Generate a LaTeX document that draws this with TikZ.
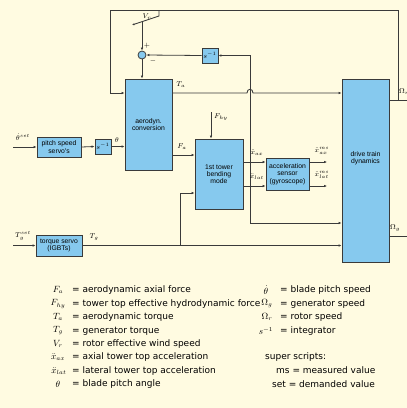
\documentclass[tikz,border=0pt]{standalone}
\usepackage{fontspec}
\setmainfont{DejaVu Sans}
\newfontfamily\boxfont{Liberation Sans}
\usetikzlibrary{arrows.meta}
\definecolor{bg}{HTML}{FFFBE1}
\definecolor{boxblue}{HTML}{86C9EE}
\definecolor{ln}{HTML}{3A3A3A}
\begin{document}
\begin{tikzpicture}[x=1pt,y=-1pt,
  blk/.style={draw=ln, line width=0.9pt, fill=boxblue, inner sep=0pt, align=center,
    font=\boxfont\fontsize{6.8}{7.3}\selectfont},
  sig/.style={draw=ln, line width=0.8pt, -{Latex[length=3pt,width=2.6pt]}},
  wire/.style={draw=ln, line width=0.8pt},
  lbl/.style={font=\fontsize{7.5}{8}\selectfont, inner sep=0pt},
  sym/.style={font=\fontsize{9}{10}\selectfont, inner sep=0pt},
  leg/.style={anchor=west, font=\fontsize{9}{10}\selectfont, inner sep=0pt}]
\fill[bg] (0,0) rectangle (407,408);
\useasboundingbox (0,0) rectangle (407,408);

% blocks
\node[blk, minimum width=47pt, minimum height=91pt] (aero) at (148.5,124.5) {aerodyn.\\conversion};
\node[blk, minimum width=48pt, minimum height=70pt] (tower) at (219,174) {1st tower\\bending\\mode};
\node[blk, minimum width=43pt, minimum height=32pt] (acc) at (287.5,174) {acceleration\\sensor\\(gyroscope)};
\node[blk, minimum width=47pt, minimum height=183pt] (drive) at (365.5,170.5) {};
\node[align=center, font=\boxfont\fontsize{6.8}{7.3}\selectfont, inner sep=0pt] (dtxt) at (365.5,158) {drive train\\dynamics};
\node[blk, minimum width=44pt, minimum height=20pt] (pitch) at (59,147) {pitch speed\\servo's};
\node[blk, minimum width=16pt, minimum height=15pt] (int1) at (103,146.5) {$s^{-1}$};
\node[blk, minimum width=16pt, minimum height=15pt] (int2) at (210,55.5) {$s^{-1}$};
\node[blk, minimum width=46pt, minimum height=21pt] (torque) at (59,245.5) {torque servo\\(IGBTs)};
\node[circle, draw=ln, line width=0.8pt, fill=boxblue, minimum size=8pt, inner sep=0pt] (sum) at (142,55) {};

% helper coordinates
\coordinate (thin) at (13,147);
\coordinate (tgin) at (13,245.5);
\coordinate (fhy) at (211,112);
\coordinate (j) at (250,162);
\coordinate (latc) at (250,186);
\coordinate (jb) at (250,223);
\coordinate (tgb) at (180,245.5);
\coordinate (tgc) at (180,193);
\coordinate (tay) at (0,93);
\coordinate (fay) at (0,155);
\coordinate (axo) at (327,162);
\coordinate (lato) at (327,186);
\coordinate (oR) at (407,100);
\coordinate (oG) at (407,236);
\coordinate (fbR) at (398,100);
\coordinate (tr) at (398,10);
\coordinate (tl) at (110,10);
\coordinate (w1) at (159,10);
\coordinate (w2) at (159,16);
\coordinate (w3) at (132,25);
\coordinate (wv) at (142,22);
\coordinate (h1) at (247,93);
\coordinate (h2) at (253,93);

% signals
\draw[sig] (thin) -- (pitch.west);
\draw[sig] (pitch.east) -- (int1.west);
\draw[sig] (int1.east) -- (aero.west |- int1.east);
\draw[sig] (tgin) -- (torque.west);
\draw[sig] (torque.east) -- (drive.west |- torque.east);
\draw[sig] (tgb) |- (tower.west |- tgc);
\draw[sig] (aero.east |- tay) -- (h1) .. controls (247,88) and (253,88) .. (h2) -- (drive.west |- tay);
\draw[sig] (aero.east |- fay) -- (tower.west |- fay);
\draw[sig] (fhy) -- (fhy |- tower.north);
\draw[sig] (tower.east |- j) -- (acc.west |- j);
\draw[sig] (tower.east |- latc) -- (acc.west |- latc);
\draw[sig] (acc.east |- j) -- (axo);
\draw[sig] (acc.east |- latc) -- (lato);
\draw[sig] (j) |- (int2.east);
\draw[sig] (j) -- (jb) -- (drive.west |- jb);
\draw[sig] (int2.west) -- (sum.east);
\draw[sig] (sum.south) -- (sum.south |- aero.north);
\draw[wire] (drive.east |- oR) -- (oR);
\draw[wire] (drive.east |- oG) -- (oG);
\draw[sig] (fbR) -- (tr) -- (tl) -- (tl |- tay) -- (aero.west |- tay);
\draw[wire, {Latex[length=2.5pt,width=2.2pt]}-] (w3) -- (w2) -- (w1);
\draw[sig] (wv) -- (sum.north);

% labels
\node[lbl] (lthset) at (23,137) {$\dot\theta^{set}$};
\node[lbl] (lth) at (117,140) {$\theta$};
\node[lbl] (lta) at (181,85) {$T_a$};
\node[lbl] (lfa) at (182,147) {$F_a$};
\node[lbl] (lfhy) at (221,117) {$F_{hy}$};
\node[lbl] (lvr) at (147,17) {$V_r$};
\node[lbl] (lplus) at (147,46) {$+$};
\node[lbl] (lminus) at (153,61) {$-$};
\node[lbl] (lxa) at (257,153) {$\ddot x_{ax}$};
\node[lbl] (lxl) at (257,177) {$\ddot x_{lat}$};
\node[lbl] (lxam) at (322,151) {$\ddot x_{ax}^{ms}$};
\node[lbl] (lxlm) at (322,175) {$\ddot x_{lat}^{ms}$};
\node[lbl] (ltgset) at (23,236) {$T_g^{set}$};
\node[lbl] (ltg) at (94,237) {$T_g$};
\node[lbl, anchor=west] (lor) at (399,92) {$\Omega_r$};
\node[lbl, anchor=west] (log) at (390,228) {$\Omega_g$};

% legend left
\node[sym] (s1) at (58,290) {$F_a$};
\node[leg] (t1) at (72,290) {= aerodynamic axial force};
\node[sym] (s2) at (58,304) {$F_{hy}$};
\node[leg] (t2) at (72,304) {= tower top effective hydrodynamic force};
\node[sym] (s3) at (58,317) {$T_a$};
\node[leg] (t3) at (72,317) {= aerodynamic torque};
\node[sym] (s4) at (58,331) {$T_g$};
\node[leg] (t4) at (72,331) {= generator torque};
\node[sym] (s5) at (58,344) {$V_r$};
\node[leg] (t5) at (72,344) {= rotor effective wind speed};
\node[sym] (s6) at (58,357) {$\ddot x_{ax}$};
\node[leg] (t6) at (72,357) {= axial tower top acceleration};
\node[sym] (s7) at (59,371) {$\ddot x_{lat}$};
\node[leg] (t7) at (72,371) {= lateral tower top acceleration};
\node[sym] (s8) at (58,384) {$\theta$};
\node[leg] (t8) at (72,384) {= blade pitch angle};
% legend right
\node[sym] (r1) at (266,290) {$\dot\theta$};
\node[leg] (u1) at (280,290) {= blade pitch speed};
\node[sym] (r2) at (267,304) {$\Omega_g$};
\node[leg] (u2) at (280,304) {= generator speed};
\node[sym] (r3) at (267,317) {$\Omega_r$};
\node[leg] (u3) at (280,317) {= rotor speed};
\node[sym] (r4) at (266,331) {$s^{-1}$};
\node[leg] (u4) at (280,331) {= integrator};
\node[leg] (u5) at (265,357) {super scripts:};
\node[leg] (u6) at (276,370) {ms = measured value};
\node[leg] (u7) at (272,384) {set = demanded value};
\end{tikzpicture}
\end{document}
